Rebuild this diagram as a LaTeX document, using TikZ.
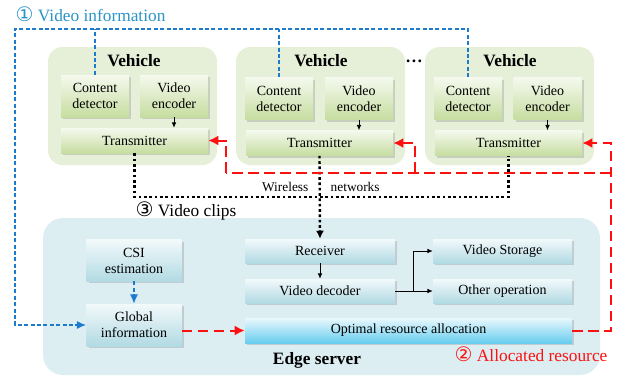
\documentclass[tikz,border=0pt]{standalone}
\usepackage{fontspec}
\setmainfont{Liberation Serif}
\newfontfamily\serfont{Liberation Serif}
\newfontfamily\circfont{DejaVu Sans}
\usetikzlibrary{arrows.meta, shadows}
\definecolor{vehfill}{HTML}{E6F0D8}
\definecolor{srvfill}{HTML}{DCEEF2}
\definecolor{gtop}{HTML}{F5F9EE}
\definecolor{gbot}{HTML}{C6DDA0}
\definecolor{btop}{HTML}{F2F9FB}
\definecolor{bbot}{HTML}{B2DAE3}
\definecolor{otop}{HTML}{E9F8FD}
\definecolor{obot}{HTML}{68CDEF}
\definecolor{infoblue}{HTML}{1C7ACF}
\definecolor{infotxt}{HTML}{2A94C8}
\definecolor{allocred}{HTML}{FF1010}

\begin{document}
\begin{tikzpicture}[x=0.75pt, y=-0.75pt, font=\serfont,
  vehbg/.style={fill=vehfill, rounded corners=11pt, minimum width=126.75pt, minimum height=88.5pt, inner sep=0pt},
  srvbg/.style={fill=srvfill, rounded corners=15pt, minimum width=417.75pt, minimum height=117.75pt, inner sep=0pt},
  gbox/.style={top color=gtop, bottom color=gbot, inner sep=0pt, align=center, font=\serfont\fontsize{10.5}{12}\selectfont, drop shadow={shadow xshift=1.5pt, shadow yshift=-1.5pt, opacity=.3}},
  det/.style={gbox, minimum width=51pt, minimum height=31.5pt},
  tx/.style={gbox, minimum width=110.25pt, minimum height=18.75pt},
  bbox/.style={gbox, top color=btop, bottom color=bbot},
  headtxt/.style={font=\serfont\fontsize{13}{15}\selectfont\bfseries},
  circtxt/.style={font=\serfont\fontsize{13}{15}\selectfont},
  info/.style={draw=infoblue, line width=1.1pt, dash pattern=on 3pt off 1.8pt, >={Latex[length=7pt,width=6pt]}},
  alloc/.style={draw=allocred, line width=1.5pt, dash pattern=on 8pt off 4pt, >={Latex[length=7.5pt,width=7.5pt]}},
  wlink/.style={draw=black, line width=1.8pt, dash pattern=on 2pt off 2pt, >={Latex[length=6pt,width=6pt]}},
  flow/.style={draw=black, line width=.6pt, >={Latex[length=4pt,width=3.5pt]}}]
\useasboundingbox (0,0) rectangle (628,379);

\node[vehbg] (veh1) at (132.5,106) {};
\node[vehbg] (veh2) at (320.5,106) {};
\node[vehbg] (veh3) at (509.5,106) {};
\node[headtxt] (vl1) at (134,61) {Vehicle};
\node[headtxt] (vl2) at (321,61) {Vehicle};
\node[headtxt] (vl3) at (510,61) {Vehicle};
\node[headtxt] (dots) at (414,61) {\dots};
\node[det] (cd1) at (95,96) {Content\\detector};
\node[det] (ve1) at (174,96) {Video\\encoder};
\node[tx] (tr1) at (134.5,140.5) {Transmitter};
\node[det] (cd2) at (279,98.5) {Content\\detector};
\node[det] (ve2) at (359,98.5) {Video\\encoder};
\node[tx] (tr2) at (319.5,143) {Transmitter};
\node[det] (cd3) at (468,98.5) {Content\\detector};
\node[det] (ve3) at (547.5,98.5) {Video\\encoder};
\node[tx] (tr3) at (508.5,143) {Transmitter};

\node[srvbg] (edge) at (321.5,296.5) {};
\node[headtxt] (el) at (317,360) {Edge server};
\node[bbox, minimum width=71.25pt, minimum height=31pt] (csi) at (134,260.5) {CSI\\estimation};
\node[bbox, minimum width=71.25pt, minimum height=31.5pt] (gi) at (134,325) {Global\\information};
\node[bbox, minimum width=112.5pt, minimum height=18pt] (rx) at (320,251) {Receiver};
\node[bbox, minimum width=112.5pt, minimum height=18pt] (vd) at (320,291) {Video decoder};
\node[bbox, minimum width=104.25pt, minimum height=18pt] (vs) at (502.5,251) {Video Storage};
\node[bbox, minimum width=104.25pt, minimum height=18pt] (oo) at (502.5,291) {Other operation};
\node[bbox, top color=otop, bottom color=obot, minimum width=245.25pt, minimum height=18.75pt] (ora) at (408.5,330.5) {Optimal resource allocation};

\node[circtxt, text=infotxt, anchor=west] (s1) at (11,14) {{\circfont\fontsize{15}{15}\selectfont ①} Video information};
\node[circtxt, anchor=west] (s3) at (131,211) {{\circfont\fontsize{15}{15}\selectfont ③} Video clips};
\node[circtxt, text=allocred, anchor=west] (s2) at (450,354) {{\circfont\fontsize{15}{15}\selectfont ②} Allocated resource};
\node[font=\serfont\fontsize{10}{12}\selectfont, anchor=east] (wl) at (313,187) {Wireless};
\node[font=\serfont\fontsize{10}{12}\selectfont, anchor=west] (nw) at (326,187) {networks};

\coordinate (vi) at (15,29);
\coordinate (bus) at (320,197);
\coordinate (ra) at (611,173);
\coordinate (rb) at (415,173);
\coordinate (rc) at (226,173);
\coordinate (br) at (413,291);

\draw [flow,->](ve1) -- (ve1 |- tr1.north);
\draw [flow,->](ve2) -- (ve2 |- tr2.north);
\draw [flow,->](ve3) -- (ve3 |- tr3.north);
\draw [info,->](cd3.north) |- (vi) |- (gi.west);
\draw [info](cd1.north) -- (cd1.north |- vi);
\draw [info](cd2.north) -- (cd2.north |- vi);
\draw [info,->](csi) -- (gi);
\draw [wlink](tr1.south) |- (bus) -| (tr3.south);
\draw [wlink,->](tr2.south) -- (rx.north);
\draw [flow,->](rx) -- (vd);
\draw [flow,->](vd) -- (oo);
\draw [flow,->](br) |- (vs.west);
\draw [alloc,->](gi.east |- ora) -- (ora.west);
\draw [alloc,->](ora.east) -| (ra) |- (tr3.east);
\draw [alloc](ra) -- (rc);
\draw [alloc,->](rb) |- (tr2.east);
\draw [alloc,->](rc) |- (tr1.east);
\end{tikzpicture}
\end{document}
